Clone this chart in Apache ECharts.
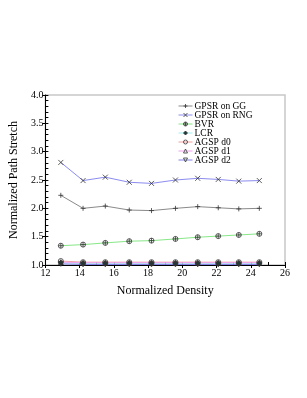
<!DOCTYPE html>
<html><head><meta charset="utf-8">
<script src="https://cdn.jsdelivr.net/npm/echarts@6/dist/echarts.min.js"></script>
<style>html,body{margin:0;padding:0;background:#fff}#c{width:307px;height:398px}</style>
</head><body><div id="c"></div>
<script>
var density = [12.9, 14.2, 15.5, 16.9, 18.2, 19.6, 20.9, 22.1, 23.3, 24.5];
var gpsrGG  = [2.23, 2.00, 2.04, 1.97, 1.96, 2.00, 2.03, 2.01, 1.99, 2.00];
var gpsrRNG = [2.81, 2.49, 2.55, 2.46, 2.44, 2.50, 2.53, 2.51, 2.48, 2.49];
var bvr     = [1.34, 1.36, 1.39, 1.42, 1.43, 1.46, 1.49, 1.51, 1.53, 1.55];
var lcr     = [1.04, 1.03, 1.03, 1.03, 1.03, 1.03, 1.03, 1.03, 1.03, 1.03];
var agspD0  = [1.07, 1.05, 1.05, 1.05, 1.05, 1.05, 1.05, 1.05, 1.05, 1.05];
var agspD1  = [1.05, 1.04, 1.04, 1.04, 1.04, 1.04, 1.04, 1.04, 1.04, 1.04];
var agspD2  = [1.02, 1.01, 1.01, 1.01, 1.01, 1.01, 1.01, 1.01, 1.01, 1.01];
var names = ['GPSR on GG','GPSR on RNG','BVR','LCR','AGSP d0','AGSP d1','AGSP d2'];

function pairs(ys){ return ys.map(function(y,i){ return [density[i], y]; }); }
var FONT = 'Liberation Serif';
var plus = 'path://M0,-5L0,5M-5,0L5,0';
var cross = 'path://M-4,-4L4,4M-4,4L4,-4';
var circ = 'path://M5,0A5,5,0,1,1,-5,0A5,5,0,1,1,5,0ZM0,-5L0,5M-5,0L5,0';
var circP = 'path://M5,0A5,5,0,1,1,-5,0A5,5,0,1,1,5,0Z';
var tri = 'path://M0,-5L5,4L-5,4Z';
var triD = 'path://M0,5L5,-4L-5,-4Z';
var syms = [plus, cross, circ, 'diamond', circP, tri, triD];
var fills = ['none','none','none','#1a3a3a','none','none','none'];
var lineColors = ['#8a8a8a','#8c8cf0','#88e888','#a0f0f0','#f0a0a0','#f0a0f0','#8080e8'];
function mk(i, data){
  return {
    name: names[i], type: 'line', data: pairs(data), symbol: syms[i], symbolSize: 5,
    xAxisIndex: 0, yAxisIndex: 0, color: lineColors[i],
    lineStyle: {color: lineColors[i], width: 1},
    itemStyle: {color: fills[i], borderColor: '#333', borderWidth: 0.8},
    emphasis: {disabled: true}, animation: false, z: 3
  };
}
var legendData = names.map(function(n, i){
  return {name: n, itemStyle: {color: fills[i], borderColor: '#333', borderWidth: 0.8},
          lineStyle: {color: lineColors[i], width: 1}};
});
var chart = echarts.init(document.getElementById('c'), null, {renderer: 'canvas'});
chart.setOption({
  backgroundColor: '#fff',
  animation: false,
  grid: {left: 36, top: 95, right: 22, bottom: 133, show: true, borderColor: '#c8c8c8', borderWidth: 1.5, backgroundColor: 'transparent'},
  legend: {
    orient: 'vertical', left: 173, top: 96, itemWidth: 14, itemHeight: 5, itemGap: -1,
    textStyle: {fontFamily: FONT, fontSize: 9.5, color: '#000', lineHeight: 9, padding: [0,0,0,-3]},
    data: legendData, inactiveColor: '#000'
  },
  xAxis: [{
    type: 'value', min: 12, max: 26, interval: 2,
    name: 'Normalized Density', nameLocation: 'middle', nameGap: 20,
    nameTextStyle: {fontFamily: FONT, fontSize: 12, color: '#000'},
    axisLine: {onZero: false, lineStyle: {color: '#000', width: 1}},
    axisTick: {inside: false, length: 3, lineStyle: {color: '#000'}},
    axisLabel: {fontFamily: FONT, fontSize: 10, color: '#000', margin: 3},
    splitLine: {show: false}
  }, {
    type: 'value', min: 12, max: 26, interval: 1, position: 'bottom',
    axisLine: {show: false}, axisLabel: {show: false}, splitLine: {show: false},
    axisTick: {inside: true, length: 3, lineStyle: {color: '#000'}}
  }],
  yAxis: [{
    type: 'value', min: 1.0, max: 4.0, interval: 0.5,
    name: 'Normalized Path Stretch', nameLocation: 'middle', nameGap: 20,
    nameTextStyle: {fontFamily: FONT, fontSize: 12, color: '#000'},
    axisLine: {onZero: false, lineStyle: {color: '#000', width: 1}},
    axisTick: {inside: false, length: 3, lineStyle: {color: '#000'}},
    axisLabel: {fontFamily: FONT, fontSize: 10, color: '#000', margin: 2, formatter: function(v){return v.toFixed(1);}},
    splitLine: {show: false}
  }, {
    type: 'value', min: 1.0, max: 4.0, interval: 0.1, position: 'left',
    axisLine: {show: false}, axisLabel: {show: false}, splitLine: {show: false},
    axisTick: {inside: true, length: 3, lineStyle: {color: '#000'}}
  }],
  series: [
    mk(0, gpsrGG), mk(1, gpsrRNG), mk(2, bvr), mk(3, lcr),
    mk(4, agspD0), mk(5, agspD1), mk(6, agspD2)
  ]
});
</script></body></html>
